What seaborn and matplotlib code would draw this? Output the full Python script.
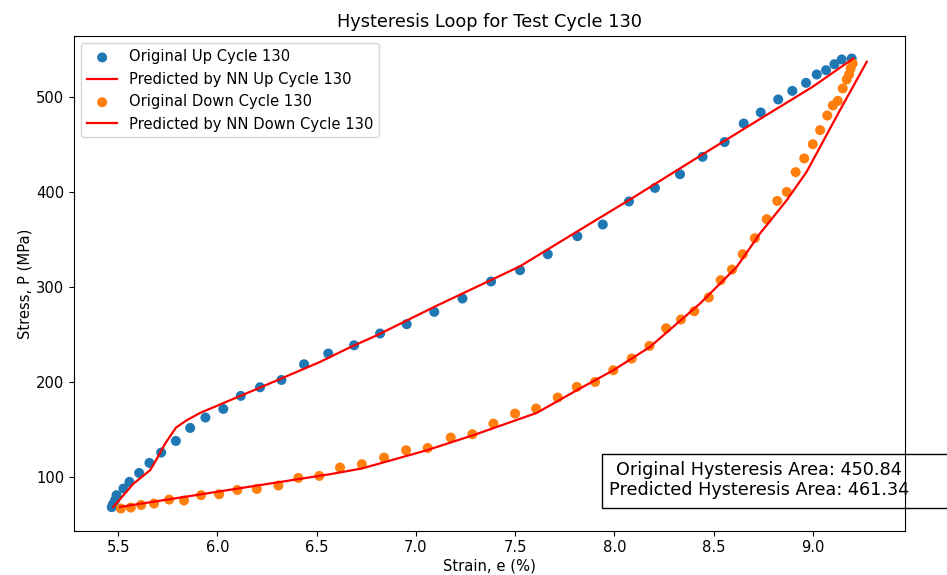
import matplotlib
matplotlib.use("Agg")
import matplotlib.pyplot as plt
from matplotlib.patches import Rectangle
import seaborn as sns
import pandas as pd

# Original up cycle (strain %, stress MPa)
up_strain = [5.468, 5.474, 5.485, 5.492, 5.527, 5.557, 5.606, 5.658, 5.717, 5.791, 5.863, 5.940,
             6.030, 6.118, 6.215, 6.323, 6.437, 6.559, 6.689, 6.820, 6.954, 7.093, 7.235,
             7.379, 7.525, 7.665, 7.814, 7.942, 8.074, 8.205, 8.331, 8.445, 8.556, 8.652,
             8.738, 8.826, 8.897, 8.966, 9.020, 9.067, 9.109, 9.146, 9.196]
up_stress = [68.5, 71.6, 76.0, 81.1, 88.1, 95.1, 104.5, 115.1, 126.0, 138.2, 151.9, 162.8,
             171.9, 185.6, 194.7, 202.4, 218.9, 230.2, 238.9, 251.3, 261.1, 274.0, 288.1,
             306.0, 317.9, 334.7, 353.7, 366.0, 390.2, 404.5, 418.9, 437.2, 452.8, 472.3,
             483.9, 497.6, 506.6, 515.1, 523.9, 528.4, 534.7, 539.7, 540.7]

# Predicted up cycle
pred_up_strain = [5.476, 5.576, 5.661, 5.686, 5.737, 5.792, 5.846, 5.913, 6.200, 6.518, 6.669,
                  6.800, 7.100, 7.525, 7.800, 8.100, 8.400, 8.726, 9.000, 9.204]
pred_up_stress = [68.7, 93.0, 107.4, 116.0, 135.4, 152.3, 160.0, 167.7, 193.0, 221.4, 236.8,
                  249.0, 280.0, 322.0, 357.0, 395.0, 434.0, 476.0, 511.0, 540.7]

# Original down cycle
down_strain = [9.201, 9.191, 9.183, 9.171, 9.151, 9.126, 9.101, 9.073, 9.037, 9.000, 8.957,
               8.914, 8.869, 8.821, 8.768, 8.708, 8.647, 8.593, 8.536, 8.476, 8.403, 8.336,
               8.261, 8.177, 8.088, 7.995, 7.903, 7.811, 7.715, 7.606, 7.500, 7.391, 7.285,
               7.176, 7.060, 6.951, 6.840, 6.728, 6.618, 6.514, 6.408, 6.308, 6.199, 6.101,
               6.009, 5.918, 5.832, 5.757, 5.681, 5.616, 5.564, 5.514]
down_stress = [535.5, 530.2, 523.9, 518.6, 509.2, 496.1, 491.3, 480.7, 465.3, 450.5, 435.5,
               421.1, 400.3, 390.8, 371.6, 351.6, 334.7, 318.6, 307.4, 289.2, 274.7, 266.0,
               256.8, 238.2, 224.9, 212.6, 200.3, 195.1, 183.9, 172.3, 167.0, 156.5, 145.3,
               141.8, 130.8, 128.4, 120.7, 113.7, 110.2, 101.4, 99.3, 91.3, 87.7, 86.6,
               82.1, 81.1, 75.5, 76.5, 72.3, 70.8, 68.1, 67.1]

# Predicted down cycle
pred_down_strain = [9.272, 9.137, 8.969, 8.869, 8.734, 8.617, 8.432, 8.180, 7.995, 7.827,
                    7.609, 7.300, 7.055, 6.728, 6.568, 6.100, 5.510]
pred_down_stress = [537.2, 486.3, 421.4, 391.6, 356.5, 321.4, 282.8, 237.2, 212.6, 193.4,
                    167.7, 145.0, 128.4, 109.2, 103.2, 88.0, 68.7]

cycle = 130
orig_area = 450.84
pred_area = 461.34

k = 1.066
plt.rcParams.update({
    "font.size": 10 * k,
    "axes.titlesize": 12 * k,
    "axes.titlepad": 6 * k,
    "axes.labelpad": 2.5,
    "xtick.major.size": 3.5,
    "ytick.major.size": 3.5,
    "xtick.major.pad": 3.0,
    "ytick.major.pad": 3.5,
})

df_up = pd.DataFrame({"strain": up_strain, "stress": up_stress})
df_pup = pd.DataFrame({"strain": pred_up_strain, "stress": pred_up_stress})
df_down = pd.DataFrame({"strain": down_strain, "stress": down_stress})
df_pdown = pd.DataFrame({"strain": pred_down_strain, "stress": pred_down_stress})

fig = plt.figure(figsize=(9.47, 5.75), dpi=100)
ax = fig.add_axes([74 / 947, 1 - 531 / 575, 830.5 / 947, 495 / 575])

sns.scatterplot(data=df_up, x="strain", y="stress", ax=ax, color="#1f77b4", s=52,
                edgecolor="none", label=f"Original Up Cycle {cycle}")
sns.lineplot(data=df_pup, x="strain", y="stress", ax=ax, color="red", sort=False,
             estimator=None, linewidth=1.6, label=f"Predicted by NN Up Cycle {cycle}")
sns.scatterplot(data=df_down, x="strain", y="stress", ax=ax, color="#ff7f0e", s=52,
                edgecolor="none", label=f"Original Down Cycle {cycle}")
sns.lineplot(data=df_pdown, x="strain", y="stress", ax=ax, color="red", sort=False,
             estimator=None, linewidth=1.6, label=f"Predicted by NN Down Cycle {cycle}")

ax.set_xlabel("Strain, e (%)")
ax.set_ylabel("Stress, P (MPa)")
ax.set_title(f"Hysteresis Loop for Test Cycle {cycle}")
ax.legend(loc="upper left")

# Annotation box (runs past the right edge of the figure, under the axes spine)
box = Rectangle((602 / 947, 1 - 508 / 575), (1000 - 602) / 947, 54 / 575,
                transform=fig.transFigure, facecolor="white", edgecolor="black",
                linewidth=1.0, clip_on=False, zorder=2)
ax.add_patch(box)
ax.text(759 / 947, 1 - 480 / 575,
        f"Original Hysteresis Area: {orig_area:.2f}\nPredicted Hysteresis Area: {pred_area:.2f}",
        transform=fig.transFigure, ha="center", va="center", multialignment="center",
        fontsize=12.7, zorder=2.1, linespacing=1.1)

fig.savefig("out.png", dpi=100)
